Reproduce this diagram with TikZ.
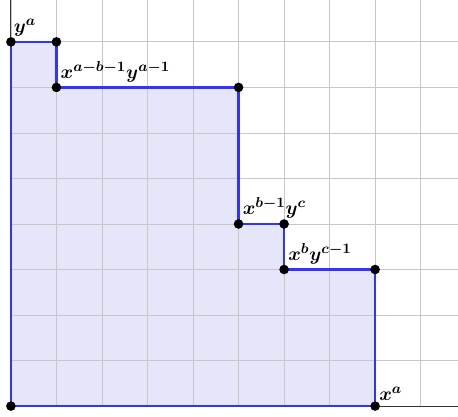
\documentclass[tikz,border=0pt]{standalone}
\usepackage{amsmath,bm}
\definecolor{stairblue}{RGB}{51,51,255}
\definecolor{stairfill}{RGB}{230,230,250}
\begin{document}
\begin{tikzpicture}[x=1cm,y=1cm,
  gridline/.style={draw=black!22, line width=0.5pt},
  axisline/.style={draw=black!80, line width=0.7pt},
  stair/.style={draw=stairblue, line width=1.6pt, line join=round},
  dot/.style={circle, fill=black, inner sep=0pt, minimum size=6pt},
  lbl/.style={anchor=south west, inner sep=1pt, font=\fontsize{13.2}{15}\selectfont}]
\useasboundingbox (-0.24,-0.22) rectangle (9.82,8.92);
\coordinate (O) at (0,0);
\coordinate (p1) at (0,8);
\coordinate (p2) at (1,8);
\coordinate (p3) at (1,7);
\coordinate (p4) at (5,7);
\coordinate (p5) at (5,4);
\coordinate (p6) at (6,4);
\coordinate (p7) at (6,3);
\coordinate (p8) at (8,3);
\coordinate (p9) at (8,0);
\fill[stairfill] (O) -- (p1) -- (p2) -- (p3) -- (p4) -- (p5) -- (p6) -- (p7) -- (p8) -- (p9) -- cycle;
\begin{scope}
\clip (0,0) rectangle (9.82,8.92);
\draw[gridline] (0,0) grid (9.82,8.92);
\end{scope}
\draw[axisline] (O) -- (9.82,0);
\draw[axisline] (O) -- (0,8.92);
\draw[stair] (O) -- (p1) -- (p2) -- (p3) -- (p4) -- (p5) -- (p6) -- (p7) -- (p8) -- (p9) -- cycle;
\foreach \p in {O,p1,p2,p3,p4,p5,p6,p7,p8,p9} \node[dot] at (\p) {};
\node[lbl] (la) at ([shift={(0.02,0.08)}]p1) {$\bm{y^a}$};
\node[lbl] (lb) at ([shift={(0.05,0.08)}]p3) {$\bm{x^{a-b-1}y^{a-1}}$};
\node[lbl] (lc) at ([shift={(0.05,0.08)}]p5) {$\bm{x^{b-1}y^{c}}$};
\node[lbl] (ld) at ([shift={(0.05,0.08)}]p7) {$\bm{x^{b}y^{c-1}}$};
\node[lbl] (le) at ([shift={(0.05,0.08)}]p9) {$\bm{x^{a}}$};
\end{tikzpicture}
\end{document}
